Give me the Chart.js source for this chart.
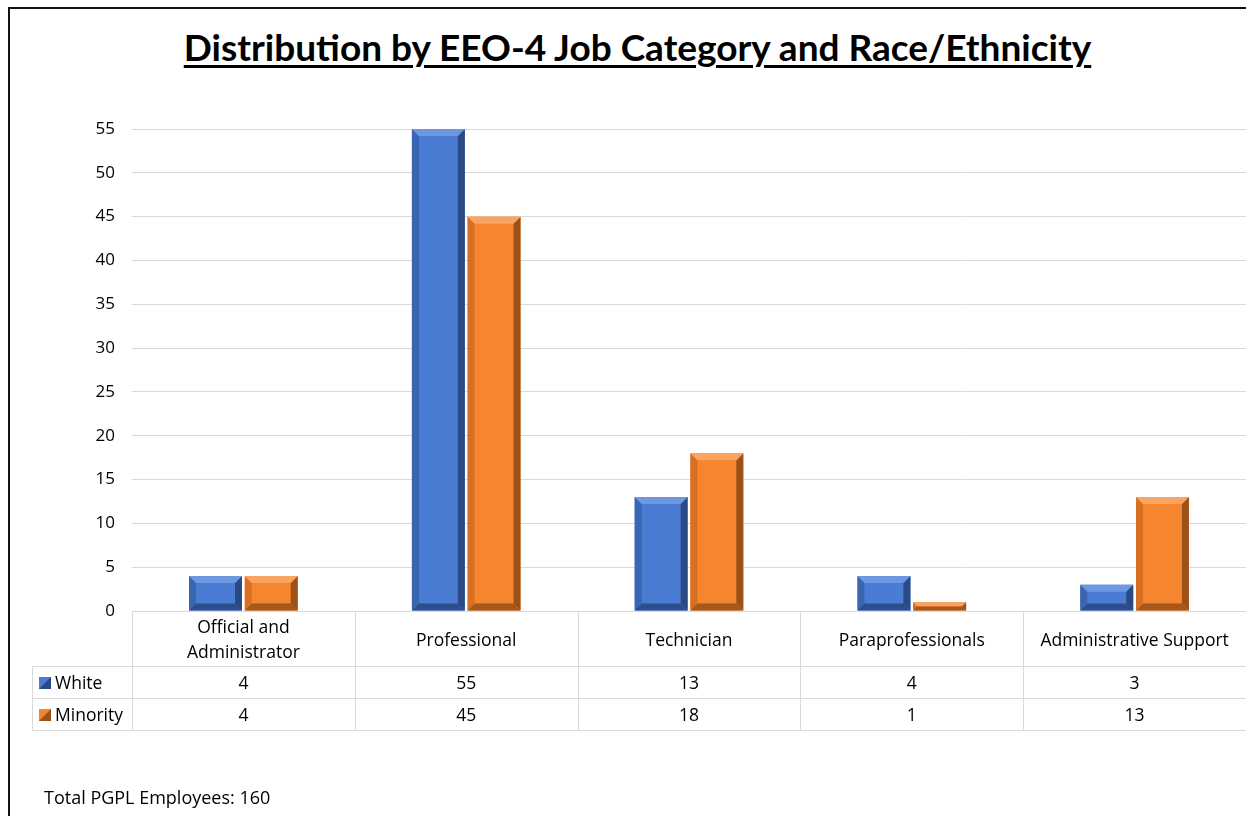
<!DOCTYPE html>
<html lang="en">
<head>
    <meta charset="UTF-8">
    <title>Distribution by EEO-4 Job Category and Race/Ethnicity</title>
    <script src="https://cdn.jsdelivr.net/npm/chart.js@4.4.0/dist/chart.umd.min.js"></script>
    <style>
        body { margin: 0; background: #fff; }
        #wrap { position: relative; width: 1246px; height: 816px; overflow: hidden; }
        #frame { position: absolute; left: 8px; top: 7px; width: 1400px; height: 900px;
                 border-left: 2px solid #111; border-top: 2px solid #111; }
        #title { position: absolute; left: 0; width: 1275px; top: 24px; text-align: center;
                 font: bold 37px Lato, sans-serif; color: #000;
                 text-decoration: underline; text-decoration-thickness: 3px; text-underline-offset: 4px; }
        #chart { position: absolute; left: 0; top: 0; }
        #note { position: absolute; left: 44px; top: 785px; font: 18px "Open Sans", sans-serif; color: #000; }
    </style>
</head>
<body>
<div id="wrap">
    <div id="frame"></div>
    <div id="title">Distribution by EEO-4 Job Category and Race/Ethnicity</div>
    <canvas id="chart" width="1246" height="816"></canvas>
    <div id="note">Total PGPL Employees: 160</div>
</div>

<script>
    // data
    const categories = [['Official and', 'Administrator'], 'Professional', 'Technician', 'Paraprofessionals', 'Administrative Support'];
    const white = [4, 55, 13, 4, 3];
    const minority = [4, 45, 18, 1, 13];
    const yTicks = [0, 5, 10, 15, 20, 25, 30, 35, 40, 45, 50, 55];

    const FONT = '"Open Sans", sans-serif';
    const shades = {
        White:    { face: '#4A7CD3', top: '#6C98E2', left: '#3B65B0', right: '#2A4A86', bottom: '#2D4E8C' },
        Minority: { face: '#F5852F', top: '#F9A460', left: '#D86F22', right: '#9C5119', bottom: '#A6571B' }
    };

    // bevelled look on top of the library's bars
    const bevel = {
        id: 'bevel',
        afterDatasetsDraw(chart) {
            const ctx = chart.ctx;
            chart.data.datasets.forEach((ds, di) => {
                const c = shades[ds.label];
                chart.getDatasetMeta(di).data.forEach(bar => {
                    const p = bar.getProps(['x', 'y', 'base', 'width'], true);
                    const L = p.x - p.width / 2, R = p.x + p.width / 2, T = p.y, B = p.base;
                    const b = Math.min(7, (B - T) / 2, p.width / 2);
                    const poly = (pts, col) => {
                        ctx.beginPath();
                        ctx.moveTo(pts[0][0], pts[0][1]);
                        for (let i = 1; i < pts.length; i++) ctx.lineTo(pts[i][0], pts[i][1]);
                        ctx.closePath();
                        ctx.fillStyle = col;
                        ctx.fill();
                    };
                    ctx.save();
                    poly([[L, T], [L, B], [L + b, B - b], [L + b, T + b]], c.left);
                    poly([[R, T], [R, B], [R - b, B - b], [R - b, T + b]], c.right);
                    poly([[L, B], [R, B], [R - b, B - b], [L + b, B - b]], c.bottom);
                    poly([[L, T], [R, T], [R - b, T + b], [L + b, T + b]], c.top);
                    ctx.restore();
                });
            });
        }
    };

    // data table under the plot, like the spreadsheet chart
    const dataTable = {
        id: 'dataTable',
        afterDraw(chart) {
            const ctx = chart.ctx;
            const x = chart.scales.x;
            const area = chart.chartArea;
            const colW = x.width / categories.length;
            const y0 = area.bottom, y1 = y0 + 55, y2 = y1 + 32, y3 = y2 + 32;
            const legL = 32;
            const dy = 2.5; // Open Sans sits a little high on 'middle'
            ctx.save();
            ctx.strokeStyle = '#d9d9d9';
            ctx.lineWidth = 1;
            const line = (ax, ay, bx, by) => {
                ctx.beginPath();
                ctx.moveTo(Math.round(ax) + 0.5, Math.round(ay) + 0.5);
                ctx.lineTo(Math.round(bx) + 0.5, Math.round(by) + 0.5);
                ctx.stroke();
            };
            line(area.left, y0, area.right, y0);
            [y1, y2, y3].forEach(y => line(legL, y, area.right, y));
            line(legL, y1, legL, y3);
            for (let i = 0; i < categories.length; i++) {
                const left = x.getPixelForValue(i) - colW / 2;
                line(left, y0, left, y3);
            }

            ctx.fillStyle = '#000';
            ctx.font = '17.5px ' + FONT;
            ctx.textAlign = 'center';
            ctx.textBaseline = 'middle';
            categories.forEach((cat, i) => {
                const cx = x.getPixelForValue(i);
                const lines = Array.isArray(cat) ? cat : [cat];
                lines.forEach((t, k) => {
                    ctx.fillText(t, cx, (y0 + y1) / 2 + dy + (k - (lines.length - 1) / 2) * 25);
                });
                ctx.fillText(String(white[i]), cx, (y1 + y2) / 2 + dy);
                ctx.fillText(String(minority[i]), cx, (y2 + y3) / 2 + dy);
            });

            // legend keys in the row headers
            [['White', (y1 + y2) / 2], ['Minority', (y2 + y3) / 2]].forEach(([name, cy]) => {
                const c = shades[name];
                const kx = 39, ky = Math.round(cy - 5), s = 12;
                ctx.fillStyle = c.face;
                ctx.fillRect(kx, ky, s, s);
                ctx.beginPath();
                ctx.moveTo(kx + s, ky);
                ctx.lineTo(kx + s, ky + s);
                ctx.lineTo(kx, ky + s);
                ctx.closePath();
                ctx.fillStyle = c.right;
                ctx.fill();
                ctx.fillStyle = '#000';
                ctx.textAlign = 'left';
                ctx.fillText(name, 55, cy + dy);
            });
            ctx.restore();
        }
    };

    new Chart(document.getElementById('chart'), {
        type: 'bar',
        data: {
            labels: categories,
            datasets: [
                { label: 'White', data: white, backgroundColor: shades.White.face },
                { label: 'Minority', data: minority, backgroundColor: shades.Minority.face }
            ]
        },
        options: {
            responsive: false,
            animation: false,
            layout: { padding: { top: 129, bottom: 205, left: 0, right: 0 } },
            datasets: { bar: { categoryPercentage: 0.5, barPercentage: 0.95 } },
            plugins: { legend: { display: false }, tooltip: { enabled: false } },
            scales: {
                x: { display: false },
                y: {
                    min: 0,
                    max: 55,
                    afterFit(scale) { scale.width = 132; },
                    afterBuildTicks(scale) { scale.ticks = yTicks.map(v => ({ value: v })); },
                    border: { display: false },
                    grid: { color: '#d9d9d9', drawTicks: false },
                    ticks: { padding: 17, color: '#000', font: { family: FONT, size: 17 } }
                }
            }
        },
        plugins: [bevel, dataTable]
    });
</script>
</body>
</html>
